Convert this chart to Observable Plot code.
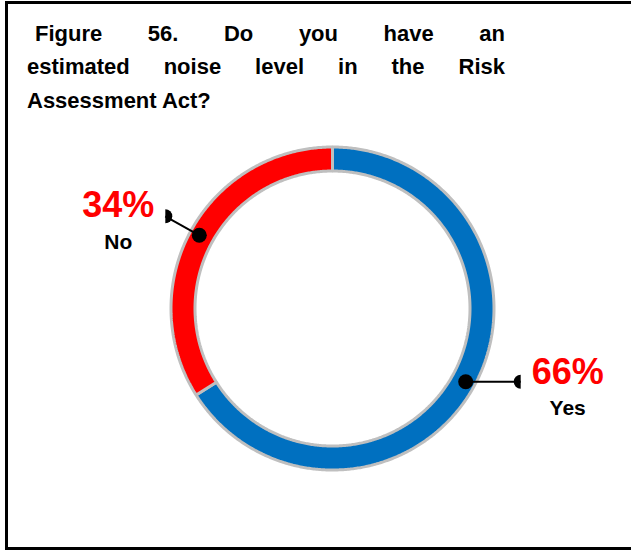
<!DOCTYPE html>
<html>
<head>
<meta charset="utf-8">
<script src="https://cdn.jsdelivr.net/npm/d3@7"></script>
<script src="https://cdn.jsdelivr.net/npm/@observablehq/plot@0.6"></script>
<style>
  html, body { margin: 0; padding: 0; background: #fff; }
  body { width: 631px; height: 550px; position: relative; overflow: hidden; }
  #frame { position: absolute; left: 5px; top: 1px; width: 700px; height: 543px;
           border: 3px solid #000; border-right: none; }
  #title { position: absolute; left: 27px; top: 16.5px; width: 478px;
           font: 700 22px "Liberation Sans", Arial, sans-serif; line-height: 33.5px; color: #000; }
  #title div { text-align: justify; text-align-last: justify; white-space: nowrap; }
  #title div.last { text-align-last: left; }
  #chart { position: absolute; left: 0; top: 0; }
</style>
</head>
<body>
<div id="chart"></div>
<div id="frame"></div>
<div id="title">
  <div style="padding-left:8px">Figure 56. Do you have an</div>
  <div>estimated noise level in the Risk</div>
  <div class="last">Assessment Act?</div>
</div>
<script>
// ---- data ----
const categories = ["Yes", "No"];
const values = [66, 34];
const labels = ["66%", "34%"];
const colors = ["#0070c0", "#ff0000"];

// ---- layout constants ----
const CX = 332, CY = 308, RPX = 163;      // ring centre and pixel radius of 1 unit
const R_OUT = 161.5 / RPX, R_IN = 137.5 / RPX, R_DOT = 152 / RPX;
const leader = { Yes: [55, 0], No: [-34, -19] }; // leader line offsets in px
const LABEL_DX = 47;                               // label centre offset from leader end
const labelShift = { Yes: 1, No: 0 };              // small vertical nudge in px

const total = d3.sum(values);
let acc = 0;
const segs = categories.map((c, i) => {
  const a0 = acc / total * 2 * Math.PI;
  acc += values[i];
  const a1 = acc / total * 2 * Math.PI;
  return { cat: c, a0, a1, mid: (a0 + a1) / 2, label: labels[i] };
});

// ring polygons (angle clockwise from 12 o'clock)
const ring = [];
for (const s of segs) {
  const n = Math.max(2, Math.ceil((s.a1 - s.a0) / (Math.PI / 360)));
  for (let k = 0; k <= n; k++) {
    const a = s.a0 + (s.a1 - s.a0) * k / n;
    ring.push({ cat: s.cat, x: R_OUT * Math.sin(a), y: R_OUT * Math.cos(a) });
  }
  for (let k = n; k >= 0; k--) {
    const a = s.a0 + (s.a1 - s.a0) * k / n;
    ring.push({ cat: s.cat, x: R_IN * Math.sin(a), y: R_IN * Math.cos(a) });
  }
}

const pts = segs.map(s => {
  const x1 = R_DOT * Math.sin(s.mid), y1 = R_DOT * Math.cos(s.mid);
  const [ox, oy] = leader[s.cat];
  const side = Math.sin(s.mid) < 0 ? -1 : 1;
  const x2 = x1 + ox / RPX, y2 = y1 - oy / RPX;
  return { ...s, x1, y1, x2, y2, xl: x2 + side * LABEL_DX / RPX,
           yl: y2 - labelShift[s.cat] / RPX, side, rot: side < 0 ? 180 : 0 };
});

const halfDisc = {
  draw(ctx, size) {
    const r = Math.sqrt(size / Math.PI);
    ctx.moveTo(0, -r);
    ctx.arc(0, 0, r, -Math.PI / 2, Math.PI / 2, true);
    ctx.closePath();
  }
};

const font = "Liberation Sans, Arial, sans-serif";
const chart = Plot.plot({
  width: 631,
  height: 550,
  margin: 0,
  style: { background: "transparent" },
  x: { domain: [-1, 1], range: [CX - RPX, CX + RPX], axis: null },
  y: { domain: [-1, 1], range: [CY + RPX, CY - RPX], axis: null },
  color: { domain: categories, range: colors },
  marks: [
    Plot.line(ring, { x: "x", y: "y", z: "cat", fill: "cat", stroke: "#bfbfbf",
      strokeWidth: 3, curve: "linear-closed", strokeLinejoin: "miter" }),
    Plot.link(pts, { x1: "x1", y1: "y1", x2: "x2", y2: "y2", stroke: "#000", strokeWidth: 2 }),
    Plot.dot(pts, { x: "x1", y: "y1", r: 7.5, fill: "#000", stroke: "none" }),
    Plot.dot(pts, { x: "x2", y: "y2", r: 7, symbol: halfDisc, rotate: "rot", fill: "#000", stroke: "none" }),
    Plot.text(pts, { x: "xl", y: "yl", text: "label", fill: "#ff0000",
      fontSize: 36, fontWeight: "bold", fontFamily: font, textAnchor: "middle", dy: -10.5 }),
    Plot.text(pts, { x: "xl", y: "yl", text: "cat", fill: "#000",
      fontSize: 21, fontWeight: "bold", fontFamily: font, textAnchor: "middle", dy: 25.8 })
  ]
});
document.getElementById("chart").appendChild(chart);
</script>
</body>
</html>
